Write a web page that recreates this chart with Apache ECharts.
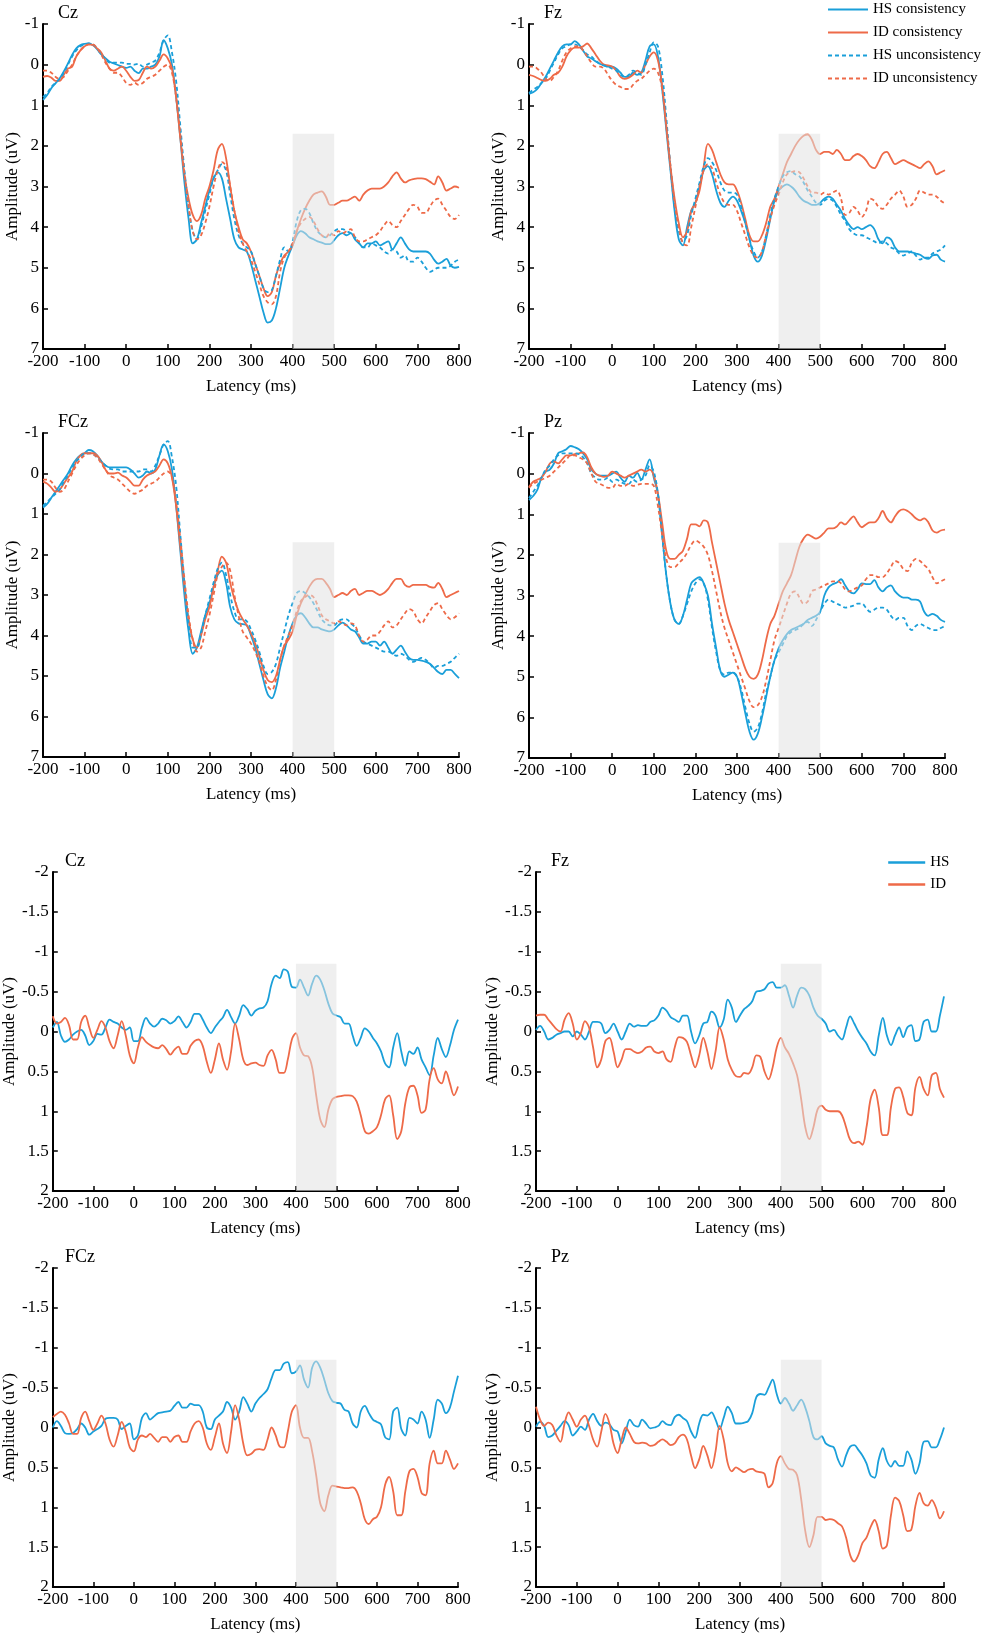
<!DOCTYPE html>
<html lang="en">
    <head>
        <meta charset="utf-8" />
        <title>ERP waveforms</title>
        <style type="text/css">
            html, body { margin: 0; padding: 0; background: #ffffff; }
            #chart { width: 989px; height: 1637px; }
        </style>
    </head>
    <body>
        <div id="chart"></div>

        <script src="https://cdn.jsdelivr.net/npm/echarts@6/dist/echarts.min.js"></script>
        <script>
            //----------Data: latency grid (ms) and amplitudes (uV)----------//
            const latency = [
                -200, -190, -180, -170, -160, -150, -140, -130, -120, -110,
                -100, -90, -80, -70, -60, -50, -40, -30, -20, -10,
                0, 10, 20, 30, 40, 50, 60, 70, 80, 90,
                100, 110, 120, 130, 140, 150, 160, 170, 180, 190,
                200, 210, 220, 230, 240, 250, 260, 270, 280, 290,
                300, 310, 320, 330, 340, 350, 360, 370, 380, 390,
                400, 410, 420, 430, 440, 450, 460, 470, 480, 490,
                500, 510, 520, 530, 540, 550, 560, 570, 580, 590,
                600, 610, 620, 630, 640, 650, 660, 670, 680, 690,
                700, 710, 720, 730, 740, 750, 760, 770, 780, 790,
                800
            ];

            const latencyTicks = [-200, -100, 0, 100, 200, 300, 400, 500, 600, 700, 800];
            const erpTicks = [-1, 0, 1, 2, 3, 4, 5, 6, 7];
            const diffTicks = [-2, -1.5, -1, -0.5, 0, 0.5, 1, 1.5, 2];

            // shaded window: [from ms, to ms, amplitude top, amplitude bottom]
            const erpWindow = [400, 500, 1.7, 7];
            const diffWindow = [400, 500, -0.85, 2];

            const erpNames = ['HS consistency', 'ID consistency', 'HS unconsistency', 'ID unconsistency'];
            const diffNames = ['HS', 'ID'];

            // --- Cz (conditions) ---
            const czConsHS = [
                0.87, 0.75, 0.58, 0.46, 0.34, 0.17, -0.03, -0.24, -0.40, -0.48,
                -0.51, -0.52, -0.48, -0.38, -0.25, -0.16, -0.07, -0.03, 0.01, 0.05,
                0.08, 0.05, 0.15, 0.21, 0.1, 0.1, 0.05, 0.0, -0.2, -0.6,
                -0.4, 0.0, 0.8, 1.8, 2.9, 3.8, 4.4, 4.3, 3.9, 3.5,
                3.1, 2.8, 2.65, 2.8, 3.3, 3.8, 4.3, 4.5, 4.55, 4.6,
                4.9, 5.3, 5.7, 6.1, 6.35, 6.3, 6.0, 5.5, 5.0, 4.7,
                4.45, 4.2, 4.1, 4.15, 4.25, 4.3, 4.35, 4.38, 4.42, 4.42,
                4.32, 4.2, 4.15, 4.2, 4.15, 4.3, 4.4, 4.5, 4.4, 4.4,
                4.35, 4.45, 4.4, 4.35, 4.55, 4.4, 4.25, 4.4, 4.55, 4.6,
                4.6, 4.6, 4.6, 4.65, 4.8, 4.9, 4.85, 4.78, 4.95, 5.0,
                4.98
            ];
            const czConsID = [
                0.3, 0.28, 0.32, 0.4, 0.4, 0.25, 0.1, 0.05, -0.2, -0.35,
                -0.45, -0.5, -0.48, -0.4, -0.3, -0.1, 0.1, 0.15, 0.1, 0.05,
                0.15, 0.3, 0.4, 0.38, 0.2, 0.05, 0.1, 0.05, -0.1, -0.25,
                -0.15, 0.1, 0.8, 1.8, 2.7, 3.3, 3.7, 3.85, 3.7, 3.3,
                3.0, 2.6, 2.1, 1.95, 2.3, 3.0, 3.6, 4.0, 4.3, 4.4,
                4.6, 4.9, 5.2, 5.5, 5.7, 5.6, 5.2, 4.9, 4.7, 4.6,
                4.45, 4.1, 3.8, 3.55, 3.35, 3.2, 3.15, 3.12, 3.25, 3.45,
                3.45, 3.4, 3.35, 3.35, 3.3, 3.25, 3.35, 3.2, 3.1, 3.05,
                3.05, 3.05, 3.0, 2.9, 2.75, 2.65, 2.8, 2.9, 2.85, 2.82,
                2.8, 2.8, 2.82, 2.88, 2.95, 2.75, 2.9, 3.1, 3.05, 3.0,
                3.03
            ];
            const czUncHS = [
                0.8, 0.7, 0.55, 0.45, 0.35, 0.2, 0.0, -0.2, -0.35, -0.45,
                -0.5, -0.52, -0.5, -0.4, -0.25, -0.15, -0.05, -0.05, -0.05, -0.05,
                -0.02, -0.02, 0.0, -0.02, 0.05, 0.0, -0.05, -0.1, -0.3, -0.6,
                -0.72, -0.3, 0.4, 1.5, 2.6, 3.5, 4.1, 4.3, 4.0, 3.6,
                3.2, 2.8, 2.6, 2.45, 2.6, 3.2, 3.8, 4.2, 4.4, 4.5,
                4.6, 4.9, 5.2, 5.5, 5.6, 5.55, 5.2, 4.8, 4.5, 4.6,
                4.35, 3.85, 3.58, 3.55, 3.65, 3.9, 4.1, 4.2, 4.25, 4.2,
                4.1, 4.05, 4.05, 4.1, 4.15, 4.25, 4.4, 4.5, 4.5, 4.4,
                4.45, 4.5, 4.6, 4.65, 4.55, 4.6, 4.75, 4.7, 4.85, 4.85,
                4.75, 4.85, 5.0, 5.1, 5.05, 5.0, 5.0, 5.0, 4.95, 4.85,
                4.8
            ];
            const czUncID = [
                0.15, 0.15, 0.2, 0.3, 0.35, 0.3, 0.15, 0.0, -0.2, -0.35,
                -0.45, -0.5, -0.5, -0.4, -0.25, -0.05, 0.1, 0.2, 0.2, 0.3,
                0.45, 0.5, 0.45, 0.5, 0.45, 0.35, 0.3, 0.25, 0.15, 0.05,
                0.0, 0.2, 0.8, 1.7, 2.7, 3.5, 4.1, 4.3, 4.2, 3.9,
                3.5, 3.0, 2.6, 2.4, 2.5, 3.0, 3.6, 4.1, 4.4, 4.6,
                4.8, 5.1, 5.4, 5.7, 5.85, 5.9, 5.7, 5.1, 4.75, 4.6,
                4.4, 4.1, 3.9, 3.8, 3.75, 3.85, 4.05, 4.2, 4.25, 4.15,
                4.2, 4.1, 4.15, 4.1, 4.05, 4.25, 4.35, 4.35, 4.3, 4.25,
                4.2, 4.1, 3.95, 3.85, 3.95, 4.0, 3.85, 3.7, 3.55, 3.45,
                3.5, 3.65, 3.65, 3.5, 3.35, 3.3, 3.45, 3.6, 3.75, 3.8,
                3.7
            ];

            // --- Fz (conditions) ---
            const fzConsHS = [
                0.72, 0.68, 0.6, 0.45, 0.3, 0.1, -0.1, -0.3, -0.45, -0.5,
                -0.5, -0.58, -0.5, -0.35, -0.2, -0.15, -0.08, -0.02, 0.02, 0.05,
                0.05, 0.1, 0.2, 0.3, 0.3, 0.2, 0.25, 0.2, -0.1, -0.45,
                -0.5, -0.2, 0.6, 1.6, 2.6, 3.6, 4.3, 4.45, 4.0, 3.6,
                3.4, 3.0, 2.6, 2.5, 2.7, 3.1, 3.4, 3.5, 3.35, 3.25,
                3.35, 3.6, 3.9, 4.3, 4.7, 4.85, 4.7, 4.3, 3.8, 3.35,
                3.1, 3.0, 2.95, 3.0, 3.1, 3.25, 3.35, 3.4, 3.45, 3.45,
                3.4, 3.3, 3.25, 3.3, 3.45, 3.6, 3.8, 3.95, 4.05, 4.0,
                4.05, 4.0, 3.95, 4.05, 4.3, 4.4, 4.25, 4.3, 4.5, 4.6,
                4.6, 4.6, 4.62, 4.65, 4.68, 4.75, 4.78, 4.7, 4.68, 4.8,
                4.85
            ];
            const fzConsID = [
                0.25, 0.28, 0.33, 0.38, 0.4, 0.35, 0.25, 0.2, 0.05, -0.2,
                -0.35, -0.42, -0.42, -0.45, -0.52, -0.4, -0.25, -0.1, 0.0, 0.02,
                0.05, 0.15, 0.3, 0.35, 0.32, 0.25, 0.15, 0.2, 0.0, -0.2,
                -0.3, -0.1, 0.5, 1.5, 2.5, 3.3, 3.9, 4.25, 4.1, 3.6,
                3.4, 3.1, 2.5, 1.95, 2.1, 2.4, 2.7, 2.9, 2.95, 2.95,
                3.1, 3.4, 3.8, 4.2, 4.35, 4.35, 4.2, 3.9, 3.5, 3.3,
                3.0, 2.7, 2.4, 2.2, 2.0, 1.85, 1.75, 1.72, 1.85, 2.1,
                2.2, 2.15, 2.15, 2.2, 2.1, 2.2, 2.35, 2.35, 2.25, 2.2,
                2.25, 2.35, 2.5, 2.55, 2.4, 2.2, 2.15, 2.3, 2.45, 2.4,
                2.35, 2.4, 2.45, 2.5, 2.55, 2.45, 2.38, 2.5, 2.7, 2.65,
                2.6
            ];
            const fzUncHS = [
                0.7, 0.62, 0.55, 0.45, 0.35, 0.15, -0.05, -0.25, -0.4, -0.45,
                -0.5, -0.5, -0.45, -0.35, -0.25, -0.2, -0.1, -0.02, 0.02, 0.05,
                0.1, 0.15, 0.25, 0.3, 0.25, 0.15, 0.2, 0.25, 0.0, -0.3,
                -0.55, -0.45, 0.2, 1.3, 2.5, 3.5, 4.1, 4.35, 4.2, 3.7,
                3.3, 2.9, 2.5, 2.3, 2.4, 2.6, 2.9, 3.1, 3.15, 3.15,
                3.2, 3.5, 3.9, 4.3, 4.6, 4.75, 4.6, 4.2, 3.7, 3.3,
                3.0, 2.75, 2.65, 2.62, 2.7, 2.75, 2.9, 3.1, 3.25, 3.4,
                3.45, 3.35, 3.3, 3.35, 3.5, 3.7, 3.85, 4.05, 4.15, 4.2,
                4.2, 4.25, 4.3, 4.35, 4.4, 4.35, 4.4, 4.5, 4.55, 4.65,
                4.7, 4.65, 4.6, 4.7, 4.8, 4.75, 4.75, 4.65, 4.6, 4.55,
                4.45
            ];
            const fzUncID = [
                0.05, 0.05, 0.1, 0.2, 0.35, 0.4, 0.3, 0.15, -0.1, -0.3,
                -0.4, -0.45, -0.45, -0.35, -0.2, -0.05, 0.05, 0.05, 0.1, 0.25,
                0.4, 0.5, 0.55, 0.6, 0.6, 0.5, 0.4, 0.35, 0.25, 0.15,
                0.1, 0.2, 0.6, 1.5, 2.5, 3.4, 4.0, 4.4, 4.45, 4.0,
                3.5, 3.0, 2.6, 2.45, 2.55, 2.9, 3.2, 3.4, 3.45, 3.45,
                3.6, 3.9, 4.2, 4.5, 4.7, 4.75, 4.6, 4.2, 3.8, 3.45,
                3.2, 2.9, 2.7, 2.65, 2.62, 2.65, 2.8, 3.0, 3.15, 3.15,
                3.2, 3.15, 3.2, 3.15, 3.1, 3.3, 3.7, 3.65, 3.5, 3.6,
                3.75, 3.6, 3.3, 3.35, 3.5, 3.55, 3.45, 3.3, 3.2, 3.1,
                3.25, 3.5, 3.45, 3.3, 3.1, 3.15, 3.2, 3.2, 3.25, 3.35,
                3.42
            ];

            // --- FCz (conditions) ---
            const fczConsHS = [
                0.84, 0.75, 0.6, 0.45, 0.3, 0.15, 0.0, -0.2, -0.35, -0.45,
                -0.5, -0.58, -0.55, -0.45, -0.3, -0.2, -0.15, -0.15, -0.15, -0.15,
                -0.15, -0.1, 0.0, 0.1, 0.05, -0.05, 0.0, -0.1, -0.45, -0.72,
                -0.55, -0.1, 0.8, 1.9, 3.0, 3.9, 4.45, 4.3, 3.9, 3.5,
                3.2, 2.8, 2.5, 2.4, 2.7, 3.3, 3.6, 3.7, 3.72, 3.75,
                4.0, 4.3, 4.7, 5.1, 5.45, 5.55, 5.3, 4.8, 4.4, 4.0,
                3.7, 3.5, 3.45, 3.55, 3.7, 3.8, 3.8, 3.85, 3.88, 3.9,
                3.85, 3.75, 3.68, 3.75, 3.85, 3.9, 4.05, 4.2, 4.2, 4.15,
                4.15, 4.25, 4.15, 4.3, 4.45, 4.35, 4.25, 4.4, 4.55, 4.6,
                4.6, 4.62, 4.65, 4.7, 4.8, 4.9, 4.95, 4.85, 4.85, 4.95,
                5.05
            ];
            const fczConsID = [
                0.2, 0.25, 0.35, 0.45, 0.4, 0.25, 0.1, -0.05, -0.3, -0.45,
                -0.5, -0.5, -0.5, -0.45, -0.3, -0.1, 0.0, 0.0, -0.02, 0.05,
                0.1, 0.2, 0.3, 0.3, 0.15, 0.05, 0.0, -0.05, -0.2, -0.35,
                -0.25, 0.1, 0.8, 1.8, 2.8, 3.6, 4.1, 4.3, 4.0, 3.6,
                3.3, 2.8, 2.4, 2.05, 2.2, 2.7, 3.1, 3.4, 3.6, 3.75,
                3.95, 4.2, 4.5, 4.85, 5.1, 5.15, 5.0, 4.6, 4.25, 4.1,
                3.9, 3.5, 3.2, 3.0, 2.8, 2.65, 2.6, 2.6, 2.7, 2.85,
                3.05, 3.0, 2.95, 3.0, 2.9, 2.85, 3.0, 2.95, 2.9, 2.9,
                2.95, 3.0, 2.95, 2.85, 2.7, 2.6, 2.6, 2.75, 2.8, 2.75,
                2.75, 2.75, 2.75, 2.8, 2.82, 2.7, 2.85, 3.05, 3.0, 2.95,
                2.9
            ];
            const fczUncHS = [
                0.8, 0.7, 0.6, 0.5, 0.4, 0.2, 0.05, -0.15, -0.3, -0.4,
                -0.5, -0.5, -0.48, -0.4, -0.3, -0.2, -0.12, -0.1, -0.1, -0.05,
                -0.05, -0.05, -0.05, -0.05, -0.1, -0.1, -0.05, -0.2, -0.45, -0.72,
                -0.8, -0.4, 0.3, 1.5, 2.7, 3.7, 4.3, 4.3, 3.95, 3.5,
                3.1, 2.7, 2.35, 2.2, 2.5, 3.0, 3.4, 3.6, 3.6, 3.65,
                3.85, 4.1, 4.4, 4.75, 4.95, 4.9, 4.7, 4.3, 3.9, 3.5,
                3.2, 2.95, 2.9, 2.95, 3.05, 3.2, 3.4, 3.6, 3.7, 3.75,
                3.75, 3.65, 3.6, 3.6, 3.7, 3.8, 4.0, 4.15, 4.2, 4.25,
                4.3, 4.35, 4.4, 4.4, 4.45, 4.5, 4.45, 4.5, 4.6, 4.65,
                4.6, 4.55, 4.6, 4.7, 4.8, 4.75, 4.75, 4.7, 4.65, 4.55,
                4.45
            ];
            const fczUncID = [
                0.15, 0.15, 0.2, 0.35, 0.45, 0.4, 0.2, 0.0, -0.2, -0.35,
                -0.45, -0.5, -0.48, -0.4, -0.25, -0.1, 0.05, 0.1, 0.15, 0.25,
                0.35, 0.45, 0.5, 0.45, 0.4, 0.3, 0.25, 0.2, 0.1, 0.0,
                -0.05, 0.1, 0.7, 1.6, 2.6, 3.5, 4.1, 4.4, 4.3, 3.9,
                3.5, 3.0, 2.5, 2.3, 2.2, 2.4, 3.0, 3.5, 3.9, 4.05,
                4.2, 4.4, 4.65, 5.0, 5.25, 5.35, 5.1, 4.6, 4.25, 4.0,
                3.75, 3.4, 3.15, 3.05, 3.0, 3.05, 3.25, 3.5, 3.6, 3.65,
                3.7, 3.65, 3.7, 3.75, 3.7, 3.75, 4.0, 4.15, 4.1, 4.0,
                4.0, 3.9, 3.75, 3.65, 3.8, 3.75, 3.6, 3.45, 3.35, 3.4,
                3.6, 3.7, 3.55, 3.4, 3.25, 3.2, 3.35, 3.5, 3.6, 3.55,
                3.45
            ];

            // --- Pz (conditions) ---
            const pzConsHS = [
                0.65, 0.55, 0.4, 0.1, -0.05, -0.1, -0.25, -0.5, -0.55, -0.6,
                -0.68, -0.65, -0.6, -0.5, -0.35, -0.1, 0.0, 0.05, 0.05, 0.05,
                0.0, -0.05, 0.1, 0.2, 0.05, 0.1, -0.02, 0.15, -0.1, -0.35,
                0.1, 0.5, 1.5, 2.5, 3.2, 3.6, 3.7, 3.5, 3.1, 2.7,
                2.6, 2.55, 2.7, 3.0, 3.7, 4.3, 4.85, 5.0, 4.95, 4.9,
                5.0, 5.4, 5.9, 6.35, 6.55, 6.4, 6.0, 5.5, 5.0, 4.6,
                4.3, 4.1, 3.95, 3.85, 3.8, 3.75, 3.7, 3.6, 3.55, 3.5,
                3.4, 3.0, 2.8, 2.72, 2.68, 2.6, 2.75, 2.9, 2.95, 2.85,
                2.7, 2.72, 2.72, 2.62, 2.8, 2.9, 2.8, 2.75, 2.9, 3.0,
                3.05, 3.05, 3.1, 3.1, 3.15, 3.4, 3.5, 3.45, 3.5, 3.6,
                3.65
            ];
            const pzConsID = [
                0.33, 0.2, 0.15, 0.1, -0.05, -0.25, -0.3, -0.25, -0.35, -0.45,
                -0.45, -0.48, -0.5, -0.52, -0.4, -0.15, 0.0, 0.05, 0.08, 0.05,
                -0.05, 0.0, 0.05, 0.1, 0.05, 0.0, -0.05, -0.1, -0.05, -0.1,
                0.05, 0.5, 1.2, 1.9, 2.1, 2.1, 2.0, 1.9, 1.6, 1.25,
                1.25, 1.3, 1.15, 1.2, 1.7, 2.2, 2.7, 3.2, 3.6, 3.9,
                4.2, 4.5, 4.8, 5.0, 5.05, 4.95, 4.6, 4.1, 3.7, 3.5,
                3.2, 2.9, 2.7, 2.5, 2.15, 1.8, 1.6, 1.5, 1.55, 1.6,
                1.55, 1.45, 1.35, 1.35, 1.3, 1.2, 1.25, 1.15, 1.05, 1.2,
                1.32, 1.25, 1.2, 1.2, 1.1, 0.92, 1.1, 1.2, 1.05, 0.92,
                0.88, 0.92, 1.0, 1.1, 1.15, 1.1, 1.2, 1.4, 1.45, 1.4,
                1.38
            ];
            const pzUncHS = [
                0.6, 0.45, 0.3, 0.1, -0.1, -0.2, -0.35, -0.45, -0.5, -0.5,
                -0.5, -0.5, -0.48, -0.4, -0.25, 0.0, 0.1, 0.15, 0.15, 0.1,
                0.2, 0.15, 0.2, 0.25, 0.25, 0.15, 0.2, 0.15, 0.05, -0.2,
                -0.05, 0.5, 1.5, 2.5, 3.2, 3.6, 3.7, 3.5, 3.2, 2.9,
                2.7, 2.6, 2.7, 3.1, 3.8, 4.4, 4.85, 4.95, 4.9, 4.9,
                5.0, 5.3, 5.75, 6.15, 6.35, 6.25, 5.9, 5.4, 5.0, 4.6,
                4.4, 4.2, 4.0, 3.9, 3.85, 3.8, 3.7, 3.65, 3.75, 3.6,
                3.4, 3.2, 3.1, 3.15, 3.2, 3.25, 3.3, 3.28, 3.25, 3.2,
                3.2, 3.3, 3.4, 3.35, 3.3, 3.3, 3.35, 3.5, 3.6, 3.55,
                3.55, 3.75, 3.85, 3.75, 3.7, 3.75, 3.8, 3.85, 3.85, 3.8,
                3.75
            ];
            const pzUncID = [
                0.35, 0.25, 0.2, 0.15, 0.1, 0.05, -0.05, -0.15, -0.25, -0.35,
                -0.45, -0.45, -0.4, -0.35, -0.25, 0.0, 0.2, 0.25, 0.3, 0.35,
                0.35, 0.25, 0.3, 0.3, 0.25, 0.3, 0.28, 0.25, 0.25, 0.25,
                0.3, 0.8, 1.5, 2.1, 2.3, 2.3, 2.2, 2.1, 1.95, 1.75,
                1.65, 1.7, 1.8, 2.0, 2.4, 2.9, 3.4, 3.8, 4.1, 4.4,
                4.7, 5.0, 5.3, 5.6, 5.75, 5.7, 5.5, 5.1, 4.6, 4.1,
                3.8, 3.5, 3.2, 2.95, 2.9, 3.05, 3.2, 3.15, 2.9, 2.85,
                2.8, 2.75, 2.7, 2.65, 2.65, 2.7, 2.85, 2.9, 2.85, 2.8,
                2.75, 2.6, 2.5, 2.5, 2.55, 2.55, 2.45, 2.3, 2.15, 2.2,
                2.35, 2.4, 2.2, 2.1, 2.15, 2.25, 2.35, 2.55, 2.7, 2.65,
                2.6
            ];

            // --- difference waves (HS / ID) ---
            const czDiffHS = [
                -0.05, -0.12, 0.05, 0.13, 0.1, 0.04, 0.0, -0.02, 0.05, 0.17,
                0.12, 0.03, 0.04, -0.05, -0.15, -0.12, -0.1, -0.05, -0.02, -0.05,
                0.12, 0.12, -0.05, -0.17, -0.1, -0.06, -0.1, -0.16, -0.14, -0.1,
                -0.13, -0.19, -0.12, -0.05, -0.12, -0.22, -0.22, -0.15, -0.05, 0.02,
                -0.05, -0.12, -0.18, -0.27, -0.18, -0.1, -0.2, -0.33, -0.28, -0.2,
                -0.26, -0.29, -0.3, -0.38, -0.6, -0.7, -0.67, -0.78, -0.75, -0.56,
                -0.55, -0.65, -0.55, -0.45, -0.6, -0.7, -0.65, -0.52, -0.35, -0.23,
                -0.2, -0.18, -0.1, -0.1, 0.05, 0.18, 0.08, -0.04, 0.0, 0.08,
                0.15, 0.25, 0.4, 0.45, 0.2, 0.02, 0.25, 0.43, 0.25, 0.28,
                0.2, 0.35, 0.45, 0.55, 0.3, 0.08, 0.22, 0.32, 0.18, -0.02,
                -0.15
            ];
            const czDiffID = [
                -0.19, -0.1, -0.12, -0.17, -0.08, 0.1, 0.1, -0.12, -0.2, -0.05,
                0.08, -0.02, -0.13, -0.05, 0.12, 0.21, 0.05, -0.13, 0.05, 0.3,
                0.4, 0.2, 0.07, 0.13, 0.17, 0.2, 0.21, 0.17, 0.22, 0.29,
                0.23, 0.19, 0.28, 0.28, 0.18, 0.12, 0.1, 0.18, 0.38, 0.52,
                0.35, 0.15, 0.35, 0.48, 0.25, -0.1, 0.1, 0.35, 0.42, 0.4,
                0.39, 0.42, 0.43, 0.3, 0.23, 0.35, 0.52, 0.52, 0.35, 0.1,
                0.02, 0.2, 0.3, 0.31, 0.45, 0.8, 1.1, 1.2, 0.98, 0.85,
                0.82, 0.81, 0.8, 0.8, 0.81, 0.88, 1.05, 1.25, 1.28, 1.25,
                1.2, 1.05, 0.85, 0.8, 1.05, 1.35, 1.25, 0.9, 0.7, 0.68,
                0.8, 1.02, 0.98, 0.6, 0.46, 0.6, 0.65, 0.5, 0.65, 0.8,
                0.69
            ];
            const fzDiffHS = [
                -0.02, -0.07, 0.0, 0.1, 0.08, 0.04, 0.02, 0.0, 0.0, 0.06,
                0.0, 0.04, 0.1, 0.0, -0.12, -0.12, -0.1, 0.02, -0.02, -0.1,
                0.0, 0.1, 0.0, -0.1, -0.06, -0.08, -0.07, -0.07, -0.12, -0.14,
                -0.2, -0.3, -0.26, -0.18, -0.15, -0.12, -0.2, -0.2, 0.0, 0.15,
                0.05, -0.1, -0.12, -0.25, -0.2, -0.05, -0.15, -0.4, -0.3, -0.12,
                -0.2, -0.28, -0.32, -0.38, -0.5, -0.51, -0.53, -0.6, -0.62, -0.55,
                -0.55, -0.58, -0.45, -0.3, -0.45, -0.55, -0.53, -0.45, -0.3, -0.2,
                -0.16, -0.1, 0.0, -0.02, 0.05, 0.1, -0.05, -0.19, -0.1, 0.0,
                0.08, 0.15, 0.25, 0.3, 0.05, -0.17, 0.05, 0.17, 0.05, -0.05,
                0.07, -0.05, -0.08, 0.12, 0.1, -0.12, -0.15, 0.0, 0.0, -0.2,
                -0.44
            ];
            const fzDiffID = [
                -0.2, -0.21, -0.21, -0.15, -0.09, -0.03, 0.0, -0.15, -0.23, -0.1,
                0.1, 0.02, -0.13, -0.05, 0.2, 0.45, 0.35, 0.12, 0.08, 0.25,
                0.45, 0.35, 0.22, 0.22, 0.25, 0.27, 0.25, 0.2, 0.19, 0.25,
                0.27, 0.25, 0.35, 0.38, 0.2, 0.07, 0.08, 0.13, 0.3, 0.45,
                0.3, 0.08, 0.25, 0.47, 0.25, -0.05, 0.1, 0.35, 0.48, 0.56,
                0.57, 0.52, 0.53, 0.45, 0.3, 0.32, 0.5, 0.6, 0.45, 0.2,
                0.08, 0.2, 0.28, 0.4, 0.55, 0.85, 1.2, 1.35, 1.2, 0.98,
                0.93, 0.98, 1.0, 1.0, 1.0, 1.05, 1.2, 1.36, 1.4, 1.38,
                1.42, 1.2, 0.85, 0.73, 0.95, 1.3, 1.3, 0.95, 0.72, 0.7,
                0.82, 1.02, 1.05, 0.7, 0.57, 0.72, 0.8, 0.55, 0.52, 0.72,
                0.83
            ];
            const fczDiffHS = [
                0.0, -0.08, -0.02, 0.07, 0.08, 0.07, 0.02, -0.05, 0.0, 0.09,
                0.05, 0.02, -0.02, -0.11, -0.12, -0.12, -0.1, 0.02, -0.02, -0.05,
                0.15, 0.1, -0.12, -0.18, -0.1, -0.14, -0.18, -0.19, -0.2, -0.21,
                -0.27, -0.32, -0.25, -0.25, -0.3, -0.28, -0.28, -0.2, 0.0, 0.02,
                -0.1, -0.15, -0.2, -0.32, -0.25, -0.1, -0.2, -0.38, -0.3, -0.2,
                -0.3, -0.37, -0.42, -0.48, -0.62, -0.72, -0.72, -0.8, -0.82, -0.68,
                -0.7, -0.78, -0.6, -0.5, -0.75, -0.83, -0.75, -0.6, -0.43, -0.33,
                -0.31, -0.3, -0.22, -0.2, -0.05, 0.0, -0.2, -0.27, -0.18, -0.1,
                -0.07, -0.04, 0.12, 0.15, -0.2, -0.25, 0.02, 0.1, -0.12, -0.1,
                -0.05, -0.2, -0.1, 0.13, -0.1, -0.35, -0.3, -0.18, -0.25, -0.45,
                -0.65
            ];
            const fczDiffID = [
                -0.13, -0.17, -0.2, -0.16, -0.05, 0.08, 0.08, -0.12, -0.2, -0.08,
                0.03, -0.05, -0.15, -0.05, 0.15, 0.24, 0.1, -0.07, 0.05, 0.25,
                0.3, 0.15, 0.1, 0.12, 0.08, 0.13, 0.18, 0.12, 0.12, 0.18,
                0.12, 0.1, 0.18, 0.18, 0.05, -0.05, -0.08, 0.0, 0.2, 0.28,
                0.12, -0.05, 0.2, 0.32, 0.05, -0.28, -0.1, 0.2, 0.35, 0.33,
                0.28, 0.27, 0.28, 0.15, 0.0, 0.1, 0.24, 0.25, 0.05, -0.2,
                -0.28, 0.0, 0.13, 0.13, 0.3, 0.6, 0.95, 1.05, 0.85, 0.73,
                0.74, 0.75, 0.76, 0.76, 0.75, 0.8, 0.95, 1.15, 1.21, 1.15,
                1.12, 1.0, 0.72, 0.62, 0.8, 1.1, 1.1, 0.8, 0.55, 0.52,
                0.62, 0.82, 0.85, 0.45, 0.29, 0.45, 0.45, 0.29, 0.4, 0.52,
                0.45
            ];
            const pzDiffHS = [
                -0.01, -0.07, -0.02, 0.12, 0.1, 0.04, -0.02, -0.08, -0.03, 0.1,
                0.05, -0.01, 0.03, -0.1, -0.17, -0.08, -0.02, -0.06, -0.04, 0.03,
                0.05, 0.2, 0.05, -0.1, -0.03, -0.01, -0.1, -0.05, 0.01, 0.0,
                -0.02, -0.08, -0.04, -0.03, -0.13, -0.16, -0.12, -0.08, 0.05, 0.13,
                -0.05, -0.16, -0.15, -0.19, -0.1, 0.02, -0.12, -0.26, -0.18, -0.05,
                -0.05, -0.06, -0.08, -0.18, -0.38, -0.42, -0.41, -0.5, -0.6, -0.42,
                -0.3, -0.37, -0.3, -0.21, -0.28, -0.35, -0.25, -0.08, 0.12, 0.15,
                0.11, 0.2, 0.23, 0.25, 0.4, 0.49, 0.35, 0.24, 0.22, 0.28,
                0.35, 0.45, 0.6, 0.63, 0.4, 0.26, 0.42, 0.49, 0.42, 0.48,
                0.48, 0.3, 0.4, 0.58, 0.45, 0.18, 0.17, 0.25, 0.25, 0.15,
                0.0
            ];
            const pzDiffID = [
                -0.26, -0.1, -0.02, -0.06, -0.03, 0.1, 0.18, -0.05, -0.19, -0.1,
                -0.01, -0.1, -0.15, -0.02, 0.15, 0.24, 0.05, -0.17, -0.05, 0.2,
                0.32, 0.15, 0.0, 0.08, 0.18, 0.2, 0.19, 0.2, 0.23, 0.22,
                0.18, 0.15, 0.18, 0.22, 0.2, 0.12, 0.09, 0.15, 0.35, 0.51,
                0.4, 0.23, 0.35, 0.51, 0.3, -0.02, 0.15, 0.45, 0.55, 0.5,
                0.53, 0.56, 0.53, 0.52, 0.55, 0.56, 0.58, 0.75, 0.7, 0.45,
                0.36, 0.45, 0.52, 0.53, 0.6, 0.9, 1.3, 1.5, 1.35, 1.12,
                1.12, 1.16, 1.15, 1.16, 1.2, 1.24, 1.38, 1.6, 1.68, 1.6,
                1.45, 1.38, 1.25, 1.16, 1.3, 1.52, 1.48, 1.1, 0.88, 0.92,
                1.1, 1.3, 1.28, 0.98, 0.82, 0.95, 0.98, 0.91, 1.0, 1.14,
                1.05
            ];

            //----------Step 1: Panel layout----------//
            const FONT = '"Liberation Serif", "Times New Roman", serif';
            const BLUE = '#1a9fd9';
            const ORANGE = '#ee6a48';

            const panels = [
                { label: 'Cz',  kind: 'erp',  box: [43, 24, 416, 325],   series: [czConsHS, czConsID, czUncHS, czUncID] },
                { label: 'Fz',  kind: 'erp',  box: [529, 24, 416, 325],  series: [fzConsHS, fzConsID, fzUncHS, fzUncID] },
                { label: 'FCz', kind: 'erp',  box: [43, 433, 416, 324],  series: [fczConsHS, fczConsID, fczUncHS, fczUncID] },
                { label: 'Pz',  kind: 'erp',  box: [529, 433, 416, 325], series: [pzConsHS, pzConsID, pzUncHS, pzUncID] },
                { label: 'Cz',  kind: 'diff', box: [50, 872, 408, 319],  series: [czDiffHS, czDiffID] },
                { label: 'Fz',  kind: 'diff', box: [536, 872, 408, 319], series: [fzDiffHS, fzDiffID] },
                { label: 'FCz', kind: 'diff', box: [50, 1268, 408, 319], series: [fczDiffHS, fczDiffID] },
                { label: 'Pz',  kind: 'diff', box: [536, 1268, 408, 319], series: [pzDiffHS, pzDiffID] }
            ];

            const pairs = (vals) => latency.map((t, i) => [t, vals[i]]);

            const grids = [], xAxes = [], yAxes = [], titles = [], series = [];

            panels.forEach((p, idx) => {
                const [left, top, width, height] = p.box;
                const erp = p.kind === 'erp';
                const yTicks = erp ? erpTicks : diffTicks;
                const win = erp ? erpWindow : diffWindow;

                grids.push({ left: left, top: top, width: width, height: height });

                titles.push({
                    text: p.label,
                    left: left + 15,
                    top: top - 20,
                    padding: 0,
                    textStyle: { fontFamily: FONT, fontSize: 18, fontWeight: 'normal', color: '#000' }
                });

                xAxes.push({
                    gridIndex: idx,
                    type: 'value',
                    min: latencyTicks[0],
                    max: latencyTicks[latencyTicks.length - 1],
                    interval: 100,
                    name: 'Latency (ms)',
                    nameLocation: 'middle',
                    nameGap: 29,
                    nameTextStyle: { fontFamily: FONT, fontSize: 17, color: '#000' },
                    axisLine: { onZero: false, lineStyle: { color: '#000', width: 2 } },
                    axisTick: { inside: true, length: 5, lineStyle: { color: '#000', width: 1.5 } },
                    axisLabel: { margin: 4, fontFamily: FONT, fontSize: 17, color: '#000' },
                    splitLine: { show: false }
                });

                yAxes.push({
                    gridIndex: idx,
                    type: 'value',
                    inverse: true,
                    min: yTicks[0],
                    max: yTicks[yTicks.length - 1],
                    interval: erp ? 1 : 0.5,
                    name: 'Amplitude (uV)',
                    nameLocation: 'middle',
                    nameGap: erp ? 22 : 28,
                    nameTextStyle: { fontFamily: FONT, fontSize: 17, color: '#000' },
                    axisLine: { onZero: false, lineStyle: { color: '#000', width: 2 } },
                    axisTick: { inside: true, length: 5, lineStyle: { color: '#000', width: 1.5 } },
                    axisLabel: { margin: 4, fontFamily: FONT, fontSize: 17, color: '#000' },
                    splitLine: { show: false }
                });

                const names = erp ? erpNames : diffNames;
                p.series.forEach((vals, k) => {
                    const dashed = k >= 2;
                    series.push({
                        name: names[k],
                        type: 'line',
                        xAxisIndex: idx,
                        yAxisIndex: idx,
                        data: pairs(vals),
                        smooth: 0.35,
                        symbol: 'none',
                        z: 2,
                        lineStyle: {
                            color: k % 2 === 0 ? BLUE : ORANGE,
                            width: 1.8,
                            type: dashed ? [4, 3] : 'solid'
                        },
                        itemStyle: { color: k % 2 === 0 ? BLUE : ORANGE }
                    });
                });

                // translucent window drawn over the curves
                series.push({
                    type: 'custom',
                    xAxisIndex: idx,
                    yAxisIndex: idx,
                    z: 10,
                    silent: true,
                    data: [win],
                    renderItem: (params, api) => {
                        const p0 = api.coord([api.value(0), api.value(2)]);
                        const p1 = api.coord([api.value(1), api.value(3)]);
                        return {
                            type: 'rect',
                            shape: { x: p0[0], y: Math.min(p0[1], p1[1]), width: p1[0] - p0[0], height: Math.abs(p1[1] - p0[1]) },
                            style: { fill: 'rgba(226,226,226,0.55)' }
                        };
                    }
                });
            });

            //----------Step 2: Legends (line only, no marker)----------//
            const legendText = { fontFamily: FONT, fontSize: 15, color: '#000' };
            const legends = [
                {
                    data: erpNames,
                    orient: 'vertical',
                    left: 827,
                    top: 2,
                    padding: 0,
                    itemWidth: 40,
                    itemHeight: 12,
                    itemGap: 8,
                    selectedMode: false,
                    itemStyle: { opacity: 0 },
                    textStyle: legendText
                },
                {
                    data: diffNames,
                    orient: 'vertical',
                    left: 887,
                    top: 855,
                    padding: 0,
                    itemWidth: 37,
                    itemHeight: 12,
                    itemGap: 7,
                    selectedMode: false,
                    itemStyle: { opacity: 0 },
                    lineStyle: { width: 2.4 },
                    textStyle: legendText
                }
            ];

            //----------Step 3: Render----------//
            const chart = echarts.init(document.querySelector('#chart'), null, { renderer: 'canvas', width: 989, height: 1637 });
            chart.setOption({
                animation: false,
                backgroundColor: '#ffffff',
                title: titles,
                legend: legends,
                grid: grids,
                xAxis: xAxes,
                yAxis: yAxes,
                series: series
            });
        </script>
    </body>
</html>
